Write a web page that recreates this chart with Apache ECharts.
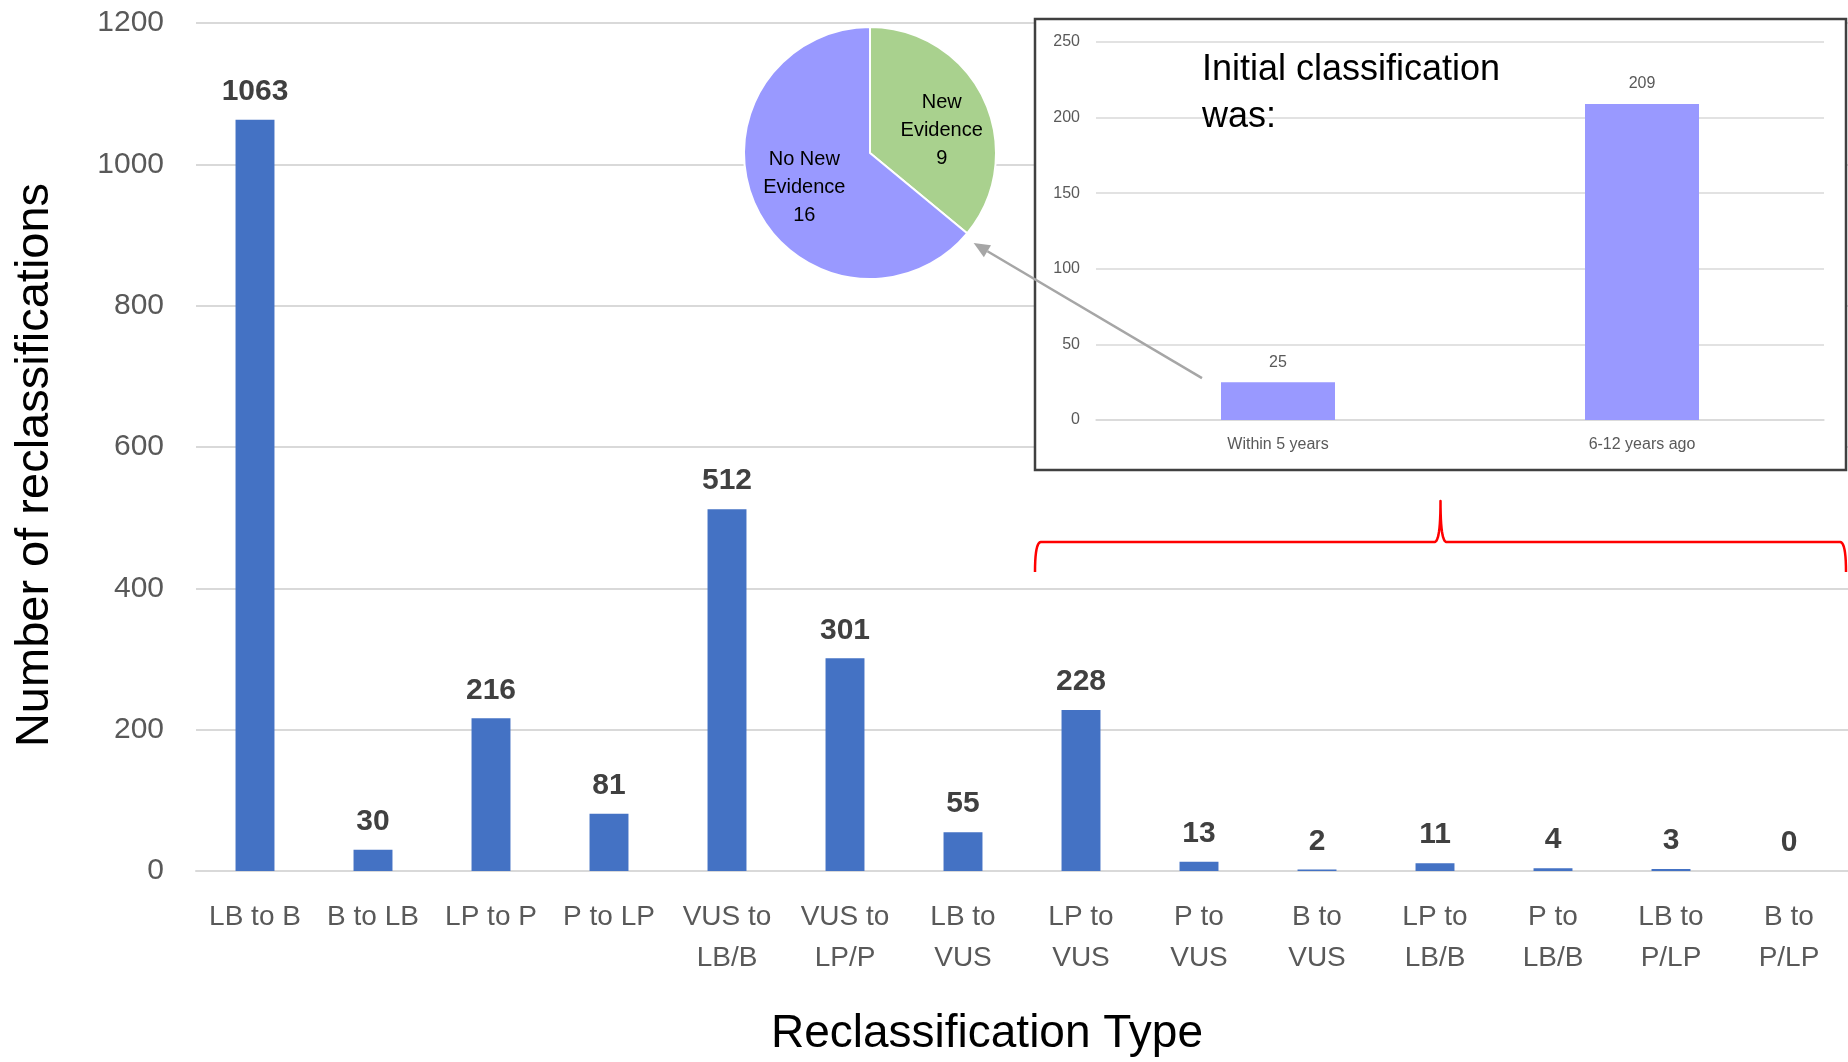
<!DOCTYPE html>
<html>
<head>
<meta charset="utf-8">
<script src="https://cdn.jsdelivr.net/npm/echarts@6/dist/echarts.min.js"></script>
<style>
  html, body { margin: 0; padding: 0; background: #fff; }
  #chart { width: 1848px; height: 1062px; }
</style>
</head>
<body>
<div id="chart"></div>
<script>
// Reclassification counts by type
const categories = ['LB to B', 'B to LB', 'LP to P', 'P to LP', 'VUS to\nLB/B', 'VUS to\nLP/P',
  'LB to\nVUS', 'LP to\nVUS', 'P to\nVUS', 'B to\nVUS', 'LP to\nLB/B', 'P to\nLB/B', 'LB to\nP/LP', 'B to\nP/LP'];
const reclassCounts = [1063, 30, 216, 81, 512, 301, 55, 228, 13, 2, 11, 4, 3, 0];
const mainTicks = { min: 0, max: 1200, interval: 200 };

// Inset: age of the initial classification
const ageCategories = ['Within 5 years', '6-12 years ago'];
const ageCounts = [25, 209];
const insetTicks = { min: 0, max: 250, interval: 50 };

// Pie: recent reclassifications split by evidence
const evidenceNames = ['New\nEvidence', 'No New\nEvidence'];
const evidenceCounts = [9, 16];
const evidenceColors = ['#A9D18E', '#9999FF'];
const evidenceLabelShift = [[12, 6], [-6, 6]];

const FONT = '"Liberation Sans", Arial, sans-serif';
const box = { x: 1035, y: 19, w: 811, h: 451 };
const pieCenter = [870, 153];
const pieR = 126;

const chart = echarts.init(document.getElementById('chart'), null, { renderer: 'canvas' });

const option = {
  animation: false,
  backgroundColor: '#fff',
  textStyle: { fontFamily: FONT },
  grid: [
    { left: 196, right: 0, top: 23, bottom: 185 },
    { left: 1096, right: 24, top: 42, bottom: 642 }
  ],
  xAxis: [
    {
      type: 'category', gridIndex: 0, data: categories,
      axisLine: { lineStyle: { color: '#D9D9D9', width: 2 } },
      axisTick: { show: false },
      axisLabel: { interval: 0, color: '#595959', fontSize: 28, lineHeight: 41, margin: 26, fontFamily: FONT },
      name: 'Reclassification Type', nameLocation: 'middle', nameGap: 140,
      nameTextStyle: { fontSize: 46, color: '#000', fontFamily: FONT, padding: [0, 70, 0, 0] }
    },
    {
      type: 'category', gridIndex: 1, data: ageCategories, z: 10,
      axisLine: { lineStyle: { color: '#D9D9D9', width: 1.5 } },
      axisTick: { show: false },
      axisLabel: { color: '#595959', fontSize: 16, margin: 17, fontFamily: FONT }
    }
  ],
  yAxis: [
    {
      type: 'value', gridIndex: 0, min: mainTicks.min, max: mainTicks.max, interval: mainTicks.interval,
      axisLine: { show: false }, axisTick: { show: false },
      splitLine: { lineStyle: { color: '#D9D9D9', width: 2 } },
      axisLabel: { color: '#595959', fontSize: 30, margin: 32, fontFamily: FONT, formatter: v => String(v) },
      name: 'Number of reclassifications', nameLocation: 'middle', nameGap: 137,
      nameTextStyle: { fontSize: 47, color: '#000', fontFamily: FONT, padding: [0, 36, 0, 0] }
    },
    {
      type: 'value', gridIndex: 1, min: insetTicks.min, max: insetTicks.max, interval: insetTicks.interval, z: 10,
      axisLine: { show: false }, axisTick: { show: false },
      splitLine: { lineStyle: { color: '#D9D9D9', width: 1.5 } },
      axisLabel: { color: '#595959', fontSize: 16, margin: 16, fontFamily: FONT }
    }
  ],
  series: [
    {
      type: 'bar', xAxisIndex: 0, yAxisIndex: 0, data: reclassCounts,
      barWidth: '33%',
      itemStyle: { color: '#4472C4' },
      label: { show: true, position: 'top', distance: 13, color: '#404040', fontSize: 30, fontWeight: 'bold', fontFamily: FONT }
    },
    {
      type: 'bar', xAxisIndex: 1, yAxisIndex: 1, data: ageCounts, z: 10,
      barWidth: 114,
      itemStyle: { color: '#9999FF' },
      label: { show: true, position: 'top', distance: 12, color: '#595959', fontSize: 16, fontFamily: FONT }
    },
    {
      type: 'pie', center: pieCenter, radius: pieR, startAngle: 90, clockwise: true,
      data: evidenceNames.map((n, i) => ({
        name: n, value: evidenceCounts[i],
        itemStyle: { color: evidenceColors[i] },
        label: { offset: evidenceLabelShift[i] }
      })),
      itemStyle: { borderColor: '#fff', borderWidth: 2 },
      label: { show: true, position: 'inside', formatter: '{b}\n{c}', color: '#000', fontSize: 20, lineHeight: 28, fontFamily: FONT },
      labelLine: { show: false },
      emphasis: { disabled: true }
    }
  ]
};

chart.setOption(option);

// Annotation layer: inset frame, caption, bracket and arrow
const L = box.x, R = box.x + box.w, cx = (L + R) / 2;
const braceY = 542, braceEnd = 572, braceTip = 501;

// sample a quadratic curve into polyline points
function quad(p0, c, p1, n) {
  const pts = [];
  for (let i = 0; i <= n; i++) {
    const t = i / n, a = (1 - t) * (1 - t), b = 2 * t * (1 - t), d = t * t;
    pts.push([a * p0[0] + b * c[0] + d * p1[0], a * p0[1] + b * c[1] + d * p1[1]]);
  }
  return pts;
}
const bracePts = [].concat(
  quad([L, braceEnd], [L, braceY], [L + 6, braceY], 10),
  quad([cx - 6, braceY], [cx, braceY], [cx, braceTip], 12),
  quad([cx, braceTip], [cx, braceY], [cx + 6, braceY], 12),
  quad([R - 6, braceY], [R, braceY], [R, braceEnd], 10)
);

const barTop = chart.convertToPixel({ xAxisIndex: 1, yAxisIndex: 1 }, [ageCategories[0], ageCounts[0]]);
const start = [barTop[0] - 57 - 19, barTop[1] - 4];
const ang = -41 * Math.PI / 180;
const end = [pieCenter[0] + pieR * 1.09 * Math.cos(ang), pieCenter[1] - pieR * 1.09 * Math.sin(ang)];
const dx = end[0] - start[0], dy = end[1] - start[1];
const len = Math.hypot(dx, dy), ux = dx / len, uy = dy / len;
const headLen = 16, headW = 7;
const base = [end[0] - ux * headLen, end[1] - uy * headLen];
const head = [
  end,
  [base[0] - uy * headW, base[1] + ux * headW],
  [base[0] + uy * headW, base[1] - ux * headW]
];

chart.setOption({
  graphic: [
    {
      type: 'rect', z: 5, silent: true,
      shape: { x: box.x, y: box.y, width: box.w, height: box.h },
      style: { fill: '#fff', stroke: '#404040', lineWidth: 2.5 }
    },
    {
      type: 'text', z: 20, silent: true, x: 1202, y: 47,
      style: { text: 'Initial classification\nwas:', fill: '#000', fontSize: 36, lineHeight: 47, fontFamily: FONT, verticalAlign: 'top' }
    },
    {
      type: 'polyline', z: 5, silent: true,
      shape: { points: bracePts },
      style: { fill: null, stroke: '#FF0000', lineWidth: 2.5, lineJoin: 'round' }
    },
    {
      type: 'line', z: 20, silent: true,
      shape: { x1: start[0], y1: start[1], x2: base[0], y2: base[1] },
      style: { stroke: '#A6A6A6', lineWidth: 2.5 }
    },
    {
      type: 'polygon', z: 20, silent: true,
      shape: { points: head },
      style: { fill: '#A6A6A6' }
    }
  ]
});
</script>
</body>
</html>
